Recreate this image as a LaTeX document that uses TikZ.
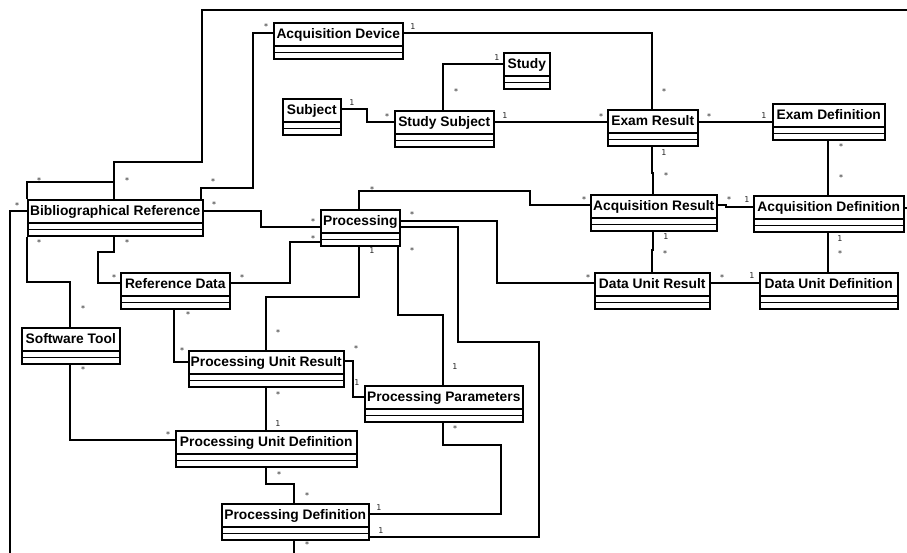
\documentclass[tikz,border=0pt]{standalone}
\usepackage{fontspec}
\setmainfont{Liberation Sans}
\newfontfamily\labelfont{DejaVu Sans}
\usetikzlibrary{backgrounds}

\tikzset{
  cls/.style={draw, line width=1.5pt, inner sep=0pt, fill=white,
    minimum height=36pt, anchor=north west,
    path picture={
      \draw[line width=1.5pt]
        ([yshift=-23pt]path picture bounding box.north west) --
        ([yshift=-23pt]path picture bounding box.north east);
      \draw[line width=1.5pt]
        ([yshift=-29.5pt]path picture bounding box.north west) --
        ([yshift=-29.5pt]path picture bounding box.north east);
    }},
  ttl/.style={font=\bfseries\fontsize{13.8}{15}\selectfont, inner sep=0pt, anchor=base},
  assoc/.style={line width=1.5pt, line join=miter},
  mult/.style={font=\labelfont\fontsize{8}{9}\selectfont, text=black!85, inner sep=0pt},
  many/.style={mult, yshift=-1.5pt},
}

% class box: name, x, y, width, title
\newcommand{\umlclass}[5]{%
  \node[cls, minimum width=#4pt] (#1) at (#2,#3) {};
  \node[ttl] (#1-t) at ([yshift=-16.8pt]#1.north) {#5};
}

\begin{document}
\begin{tikzpicture}[x=1pt, y=-1pt]
\useasboundingbox (0,0) rectangle (907,552);

% classes
\umlclass{adev}{273}{22}{129}{Acquisition Device}
\umlclass{subj}{282}{98}{58}{Subject}
\umlclass{ssub}{394}{110}{99}{Study Subject}
\umlclass{study}{503}{52}{46}{Study}
\umlclass{exres}{607}{109}{90}{Exam Result}
\umlclass{exdef}{772}{103}{112}{Exam Definition}
\umlclass{bibref}{27}{199}{175}{Bibliographical Reference}
\umlclass{proc}{320}{209}{79}{Processing}
\umlclass{refdata}{120}{272}{109}{Reference Data}
\umlclass{swtool}{21}{327}{98}{Software Tool}
\umlclass{pur}{188}{350}{155}{Processing Unit Result}
\umlclass{acqres}{590}{194}{126}{Acquisition Result}
\umlclass{acqdef}{753}{195}{150}{Acquisition Definition}
\umlclass{dur}{594}{272}{115}{Data Unit Result}
\umlclass{dud}{759}{272}{138}{Data Unit Definition}
\umlclass{ppar}{364}{385}{158}{Processing Parameters}
\umlclass{pud}{175}{430}{181}{Processing Unit Definition}
\umlclass{pdef}{221}{503}{147}{Processing Definition}

% associations
\begin{pgfonlayer}{background}
\fill[white] (0,0) rectangle (907,552);
\begin{scope}
\clip (0,0) rectangle (907,552);
\draw[assoc] (bibref.north west) -- (27,182) -- (114,182) -- (bibref.north -| 114,0);
\draw[assoc] (bibref.north -| 114,0) -- (114,162) -- (202,162) -- (202,10) -- (925,10) -- (925,208) -- (acqdef.east |- 0,208);
\draw[assoc] (adev.west |- 0,33) -- (253,33) -- (253,188) -- (201,188) -- (bibref.north -| 201,0);
\draw[assoc] (adev.east |- 0,33) -- (652,33) -- (exres.north -| 652,0);
\draw[assoc] (ssub.north -| 443,0) -- (443,64) -- (study.west |- 0,64);
\draw[assoc] (subj.east |- 0,109) -- (367,109) -- (367,122) -- (ssub.west |- 0,122);
\draw[assoc] (ssub.east |- 0,122) -- (exres.west |- 0,122);
\draw[assoc] (exres.east |- 0,122) -- (exdef.west |- 0,122);
\draw[assoc] (exres.south -| 652,0) -- (652,173) -- (653,173) -- (acqres.north -| 653,0);
\draw[assoc] (exdef.south -| 828,0) -- (acqdef.north -| 828,0);
\draw[assoc] (acqres.east |- 0,205) -- (726,205) -- (726,207) -- (acqdef.west |- 0,207);
\draw[assoc] (acqres.south -| 653,0) -- (653,250) -- (652,250) -- (dur.north -| 652,0);
\draw[assoc] (acqdef.south -| 828,0) -- (dud.north -| 828,0);
\draw[assoc] (dur.east |- 0,283) -- (dud.west |- 0,283);
\draw[assoc] (proc.north -| 359,0) -- (359,191) -- (530,191) -- (530,205) -- (acqres.west |- 0,205);
\draw[assoc] (proc.east |- 0,221) -- (497,221) -- (497,283) -- (dur.west |- 0,283);
\draw[assoc] (proc.east |- 0,227) -- (458,227) -- (458,342) -- (539,342) -- (539,537) -- (pdef.east |- 0,537);
\draw[assoc] (proc.south -| 398,0) -- (398,315) -- (443,315) -- (ppar.north -| 443,0);
\draw[assoc] (proc.south -| 359,0) -- (359,297) -- (266,297) -- (pur.north -| 266,0);
\draw[assoc] (refdata.east |- 0,283) -- (290,283) -- (290,242) -- (proc.west |- 0,242);
\draw[assoc] (bibref.east |- 0,211) -- (261,211) -- (261,227) -- (proc.west |- 0,227);
\draw[assoc] (bibref.south -| 114,0) -- (114,252) -- (98,252) -- (98,283) -- (refdata.west |- 0,283);
\draw[assoc] (bibref.south -| 27,0) -- (27,282) -- (70,282) -- (swtool.north -| 70,0);
\draw[assoc] (swtool.south -| 70,0) -- (70,440) -- (pud.west |- 0,440);
\draw[assoc] (refdata.south -| 174,0) -- (174,362) -- (pur.west |- 0,362);
\draw[assoc] (pur.east |- 0,361) -- (353,361) -- (353,397) -- (ppar.west |- 0,397);
\draw[assoc] (pur.south -| 266,0) -- (pud.north -| 266,0);
\draw[assoc] (pud.south -| 266,0) -- (266,484) -- (294,484) -- (pdef.north -| 294,0);
\draw[assoc] (ppar.south -| 443,0) -- (443,445) -- (501,445) -- (501,514) -- (pdef.east |- 0,514);
\draw[assoc] (bibref.west |- 0,211) -- (10,211) -- (10,575) -- (294,575) -- (pdef.south -| 294,0);
\end{scope}
\end{pgfonlayer}

% multiplicities
\node[many] (m01) at (39,179) {*};
\node[many] (m02) at (127,179) {*};
\node[many] (m03) at (266,25) {*};
\node[mult] (m04) at (413,27) {1};
\node[many] (m05) at (213,180) {*};
\node[many] (m06) at (664,90) {*};
\node[mult] (m07) at (497,58) {1};
\node[many] (m08) at (456,90) {*};
\node[mult] (m09) at (352,103) {1};
\node[many] (m10) at (387,115) {*};
\node[mult] (m11) at (505,116) {1};
\node[many] (m12) at (601,115) {*};
\node[many] (m13) at (709,115) {*};
\node[mult] (m14) at (764,116) {1};
\node[mult] (m15) at (664,153) {1};
\node[many] (m16) at (666,174) {*};
\node[many] (m17) at (841,145) {*};
\node[many] (m18) at (841,176) {*};
\node[many] (m19) at (729,198) {*};
\node[mult] (m20) at (747,200) {1};
\node[mult] (m21) at (666,237) {1};
\node[many] (m22) at (665,252) {*};
\node[mult] (m23) at (840,239) {1};
\node[many] (m24) at (840,252) {*};
\node[many] (m25) at (722,276) {*};
\node[mult] (m26) at (752,276) {1};
\node[many] (m27) at (372,188) {*};
\node[many] (m28) at (584,198) {*};
\node[many] (m29) at (412,213) {*};
\node[many] (m30) at (588,276) {*};
\node[mult] (m31) at (381,531) {1};
\node[many] (m32) at (412,249) {*};
\node[mult] (m33) at (455,367) {1};
\node[mult] (m34) at (372,251) {1};
\node[many] (m35) at (278,331) {*};
\node[many] (m36) at (313,237) {*};
\node[many] (m37) at (242,276) {*};
\node[many] (m38) at (214,203) {*};
\node[many] (m39) at (313,220) {*};
\node[many] (m40) at (127,241) {*};
\node[many] (m41) at (114,276) {*};
\node[many] (m42) at (39,241) {*};
\node[many] (m43) at (83,307) {*};
\node[many] (m44) at (83,368) {*};
\node[many] (m45) at (168,433) {*};
\node[many] (m46) at (188,313) {*};
\node[many] (m47) at (182,349) {*};
\node[many] (m48) at (356,347) {*};
\node[mult] (m49) at (357,383) {1};
\node[many] (m50) at (278,393) {*};
\node[mult] (m51) at (278,424) {1};
\node[many] (m52) at (279,473) {*};
\node[many] (m53) at (307,494) {*};
\node[many] (m54) at (455,427) {*};
\node[mult] (m55) at (379,508) {1};
\node[many] (m56) at (17,204) {*};
\node[many] (m57) at (307,543) {*};
\end{tikzpicture}
\end{document}
